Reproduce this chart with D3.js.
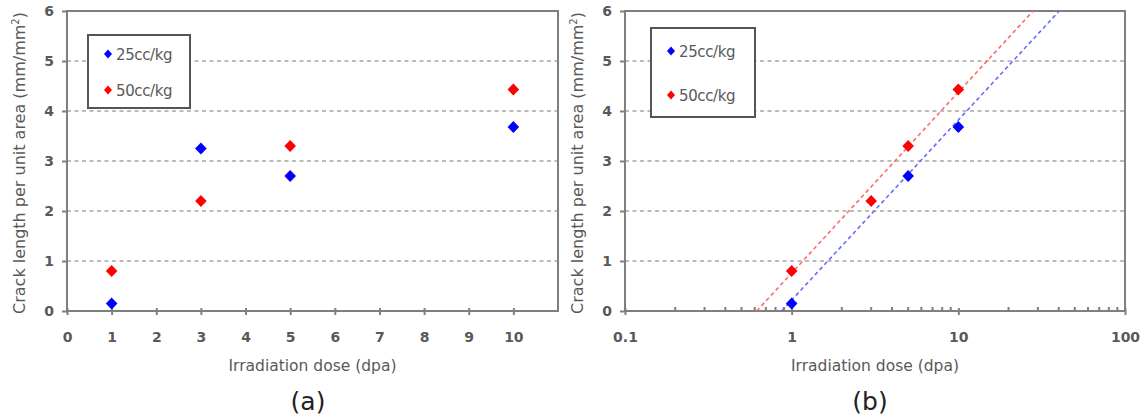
<!DOCTYPE html>
<html><head><meta charset="utf-8">
<script src="https://cdn.jsdelivr.net/npm/d3@7"></script>
<style>
body{margin:0;background:#fff;}
text{font-family:"DejaVu Sans",sans-serif;}
</style></head>
<body><svg id="c" width="1144" height="416"></svg>
<script>
// ---- data ----
const seriesNames = ["25cc/kg", "50cc/kg"];
const seriesColors = ["#0000ff", "#ff0000"];
// panel (a)
const doseA25 = [1, 3, 5, 10];
const crackA25 = [0.15, 3.25, 2.7, 3.68];
const doseA50 = [1, 3, 5, 10];
const crackA50 = [0.8, 2.2, 3.3, 4.43];
// panel (b)
const doseB25 = [1, 5, 10];
const crackB25 = [0.15, 2.7, 3.68];
const doseB50 = [1, 3, 5, 10];
const crackB50 = [0.8, 2.2, 3.3, 4.43];
// log trend lines, end points [dose, crack]
const trend25 = [[0.87, 0], [40.3, 6]];
const trend50 = [[0.617, 0], [28.1, 6]];
const yTicks = [0, 1, 2, 3, 4, 5, 6];
const xTicksA = [0, 1, 2, 3, 4, 5, 6, 7, 8, 9, 10];
const xTicksB = [0.1, 1, 10, 100];
const xTitle = "Irradiation dose (dpa)";
const panelLabels = ["(a)", "(b)"];

const svg = d3.select("#c");
const axisColor = "#7f7f7f";
const textColor = "#595959";

function diamond(g, xs, ys, x, y, color) {
  g.selectAll(null).data(xs.map((d, i) => [d, ys[i]])).enter().append("path")
    .attr("d", "M0,-6L5.8,0L0,6L-5.8,0Z")
    .attr("transform", d => `translate(${x(d[0])},${y(d[1])})`)
    .attr("fill", color);
}

function panel(opts) {
  const { left, right, top, bottom, x, ticks, fmt, minor } = opts;
  const g = svg.append("g");
  const y = d3.scaleLinear().domain([0, 6]).range([bottom, top]);
  // grid
  g.selectAll(null).data(yTicks.filter(d => d > 0 && d < 6)).enter().append("line")
    .attr("x1", left).attr("x2", right).attr("y1", d => y(d)).attr("y2", d => y(d))
    .attr("stroke", "#a6a6a6").attr("stroke-width", 1.5).attr("stroke-dasharray", "4,3.5");
  // frame
  g.append("rect").attr("x", left).attr("y", top).attr("width", right - left).attr("height", bottom - top)
    .attr("fill", "none").attr("stroke", axisColor).attr("stroke-width", 2);
  // y axis
  const ya = g.append("g").attr("transform", `translate(${left},0)`)
    .call(d3.axisLeft(y).tickValues(yTicks).tickFormat(d3.format("d")).tickSize(5).tickPadding(8));
  ya.select(".domain").remove();
  ya.selectAll("line").attr("stroke", axisColor).attr("stroke-width", 2);
  ya.selectAll("text").attr("fill", textColor).attr("font-size", 14).attr("font-weight", "bold");
  // x axis
  const xa = g.append("g").attr("transform", `translate(0,${bottom})`)
    .call(d3.axisBottom(x).tickValues(ticks).tickFormat(fmt).tickSize(4).tickPadding(17));
  xa.select(".domain").remove();
  xa.selectAll("line").attr("stroke", axisColor).attr("stroke-width", 2).attr("y1", -3);
  xa.selectAll("text").attr("fill", textColor).attr("font-size", 14).attr("font-weight", "bold");
  if (minor) {
    g.selectAll(null).data(minor).enter().append("line")
      .attr("x1", d => x(d)).attr("x2", d => x(d)).attr("y1", bottom - 4).attr("y2", bottom)
      .attr("stroke", axisColor).attr("stroke-width", 2);
  }
  // titles
  g.append("text").attr("x", (left + right) / 2 + opts.xtOff).attr("y", bottom + 60).attr("text-anchor", "middle")
    .attr("fill", textColor).attr("font-size", 15.5).text(xTitle);
  const yt = g.append("text").attr("transform", `translate(${left - 42},${(top + bottom) / 2 + 2}) rotate(-90)`)
    .attr("text-anchor", "middle").attr("fill", textColor).attr("font-size", 16);
  yt.append("tspan").text("Crack length per unit area (mm/mm");
  yt.append("tspan").attr("font-size", 10).attr("dy", -6).text("2");
  yt.append("tspan").attr("dy", 6).text(")");
  g.append("text").attr("x", opts.labelX).attr("y", 410).attr("text-anchor", "middle")
    .attr("font-family", "'DejaVu Serif', 'Liberation Serif', serif").attr("font-size", 25).attr("fill", "#222")
    .text(opts.label);
  // legend
  const L = opts.legend;
  g.append("rect").attr("x", L.x).attr("y", L.y).attr("width", L.w).attr("height", L.h)
    .attr("fill", "#fff").attr("stroke", "#555").attr("stroke-width", 2);
  seriesNames.forEach((n, i) => {
    const cy = L.y + L.r0 + i * L.dy;
    g.append("path").attr("d", "M0,-4.5L4,0L0,4.5L-4,0Z")
      .attr("transform", `translate(${L.x + 20},${cy})`).attr("fill", seriesColors[i]);
    g.append("text").attr("x", L.x + 28).attr("y", cy + 5.5).attr("fill", textColor).attr("font-size", 15)
      .attr("letter-spacing", -0.4).text(n);
  });
  return { g, x, y };
}

// Panel (a)
const xA = d3.scaleLinear().domain([0, 11]).range([67, 558]);
const pA = panel({ left: 67, right: 558, top: 11, bottom: 311, x: xA, ticks: xTicksA, fmt: d3.format("d"),
  label: panelLabels[0], labelX: 308, xtOff: 0,
  legend: { x: 88, y: 35, w: 102, h: 73, r0: 19, dy: 36 } });
diamond(pA.g, doseA25, crackA25, xA, pA.y, seriesColors[0]);
diamond(pA.g, doseA50, crackA50, xA, pA.y, seriesColors[1]);

// Panel (b)
const xB = d3.scaleLog().domain([0.1, 100]).range([625, 1125]);
const minorB = [];
[0.1, 1, 10].forEach(dec => { for (let k = 2; k <= 9; k++) minorB.push(dec * k); });
const pB = panel({ left: 625, right: 1125, top: 11, bottom: 311, x: xB, ticks: xTicksB, fmt: d => String(d),
  label: panelLabels[1], labelX: 870, xtOff: 0, minor: minorB,
  legend: { x: 651, y: 28, w: 104, h: 89, r0: 23, dy: 44 } });
const line = d3.line().x(d => xB(d[0])).y(d => pB.y(d[1]));
[[trend25, "#6a6aff"], [trend50, "#ff6a6a"]].forEach(([t, c]) => {
  pB.g.append("path").attr("d", line(t)).attr("fill", "none").attr("stroke", c)
    .attr("stroke-width", 1.6).attr("stroke-dasharray", "4,3");
});
diamond(pB.g, doseB25, crackB25, xB, pB.y, seriesColors[0]);
diamond(pB.g, doseB50, crackB50, xB, pB.y, seriesColors[1]);
</script></body></html>
